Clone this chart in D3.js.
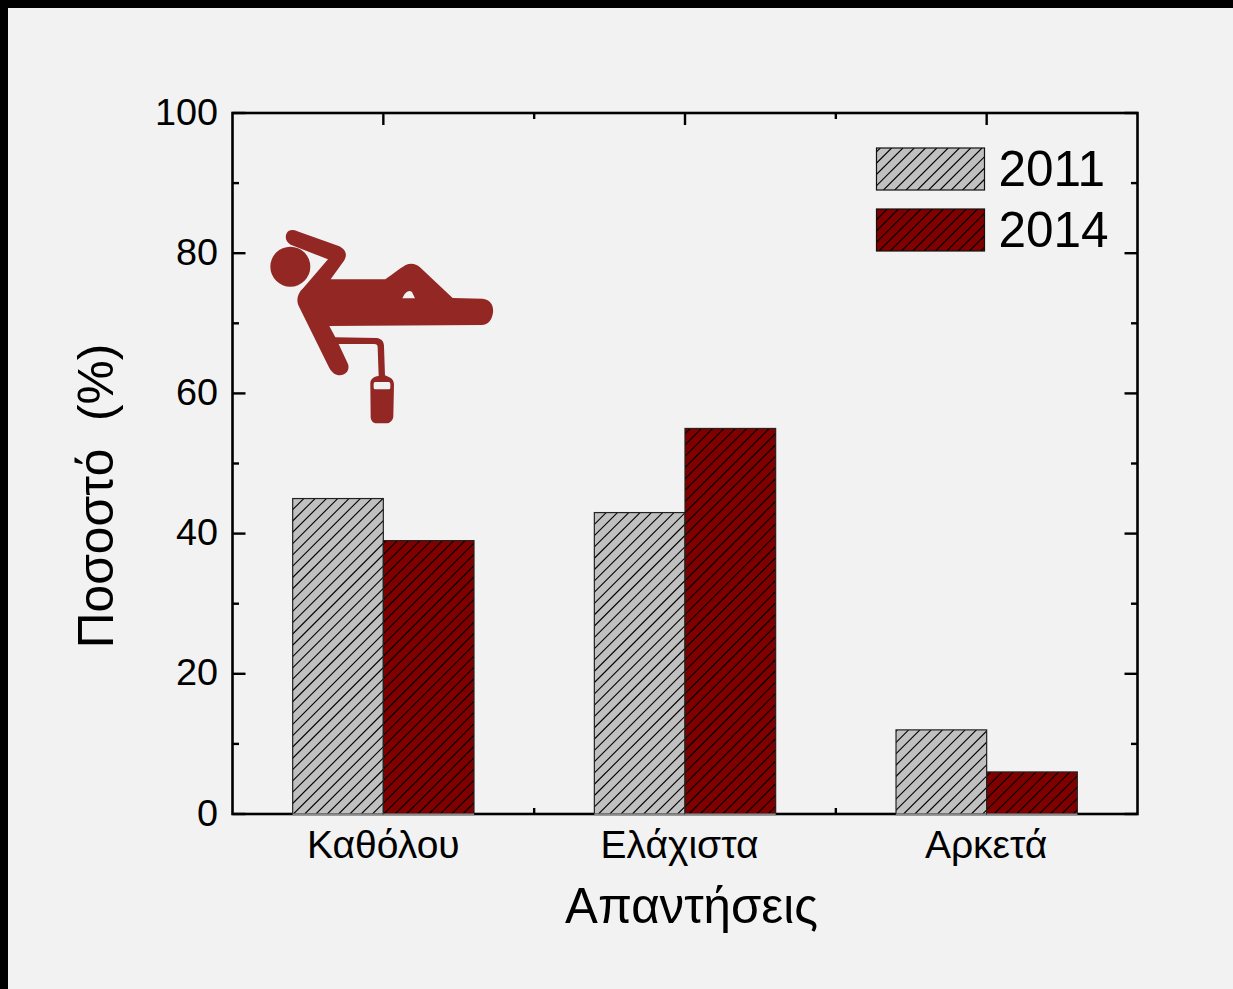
<!DOCTYPE html>
<html><head><meta charset="utf-8">
<style>html,body{margin:0;padding:0;background:#000;overflow:hidden}
text{font-family:"Liberation Sans",Arial,sans-serif;fill:#000}</style>
<script src="https://cdn.jsdelivr.net/npm/d3@7/dist/d3.min.js"></script>
</head><body><div id="c"></div>
<script>
const categories=["Καθόλου","Ελάχιστα","Αρκετά"];
const seriesNames=["2011","2014"];
const values2011=[45,43,12];
const values2014=[39,55,6];
const yMajor=[0,20,40,60,80,100];
const yMinor=[10,30,50,70,90];
const colors=["#c0c0c0","#800000"];
const labelNudge=[0,-5.5,-0.5];
const W=1233,H=989,L=232.5,R=1137.5,T=113,B=814;
const svg=d3.select("#c").append("svg").attr("width",W).attr("height",H).style("display","block");
svg.append("rect").attr("width",W).attr("height",H).attr("fill","#000");
svg.append("rect").attr("x",8).attr("y",8).attr("width",W-8).attr("height",H-8).attr("fill","#f2f2f2");
const defs=svg.append("defs");
const HATCH=11.3;
let clipId=0;
function hatchRect(g,x,yy,w,h,color,edge){
  const id="clip"+(clipId++);
  defs.append("clipPath").attr("id",id).append("rect").attr("x",x).attr("y",yy).attr("width",w).attr("height",h);
  g.append("rect").attr("x",x).attr("y",yy).attr("width",w).attr("height",h).attr("fill",color);
  const lines=g.append("g").attr("clip-path","url(#"+id+")").attr("stroke","#000").attr("stroke-width",1.1);
  const start=Math.floor((x+yy)/HATCH)*HATCH, end=x+w+yy+h;
  d3.range(start,end+HATCH,HATCH).forEach(s=>{
    lines.append("line").attr("x1",s-yy-h).attr("y1",yy+h).attr("x2",s-yy).attr("y2",yy);
  });
  g.append("rect").attr("x",x).attr("y",yy).attr("width",w).attr("height",h).attr("fill","none").attr("stroke",edge).attr("stroke-width",1.2);
}
const x0=d3.scaleBand().domain(categories).range([L,R]);
const x1=d3.scaleBand().domain(seriesNames).range([x0.bandwidth()*0.1995,x0.bandwidth()*0.8005]);
const y=d3.scaleLinear().domain([0,100]).range([B,T]);
const ax=svg.append("g").attr("stroke","#000").attr("fill","none");
ax.append("rect").attr("x",L).attr("y",T).attr("width",R-L).attr("height",B-T).attr("stroke-width",2.6);
const tick=(a,b,c,d)=>ax.append("line").attr("x1",a).attr("y1",b).attr("x2",c).attr("y2",d).attr("stroke-width",2.4);
yMajor.forEach(v=>{tick(L,y(v),L+13,y(v));tick(R,y(v),R-13,y(v));});
yMinor.forEach(v=>{tick(L,y(v),L+6.5,y(v));tick(R,y(v),R-6.5,y(v));});
categories.forEach(c=>{const m=x0(c)+x0.bandwidth()/2;tick(m,B,m,B-12);tick(m,T,m,T+12);});
categories.slice(1).forEach(c=>{const m=x0(c);tick(m,B,m,B-6);tick(m,T,m,T+6);});
const bars=svg.append("g");
[values2011,values2014].forEach((vals,i)=>{
  vals.forEach((v,j)=>{
    const bx=x0(categories[j])+x1(seriesNames[i]);
    hatchRect(bars,bx,y(v),x1.bandwidth(),y(0)-y(v),colors[i],"#222");
    bars.append("line").attr("x1",bx).attr("x2",bx+x1.bandwidth()).attr("y1",y(0)+0.5).attr("y2",y(0)+0.5).attr("stroke","#8a8a8a").attr("stroke-width",2);
  });
});
svg.selectAll(".yl").data(yMajor).join("text").attr("x",218).attr("y",d=>y(d)+11.5)
  .attr("text-anchor","end").attr("font-size",37.8).text(d=>d);
svg.selectAll(".xl").data(categories).join("text").attr("x",(d,i)=>x0(d)+x0.bandwidth()/2+labelNudge[i]).attr("y",858)
  .attr("text-anchor","middle").attr("font-size",39).text(d=>d);
svg.append("text").attr("x",691.5).attr("y",923).attr("text-anchor","middle").attr("font-size",49.2).text("Απαντήσεις");
svg.append("text").attr("transform","translate(113,496) rotate(-90)").attr("text-anchor","middle").attr("font-size",49.7).attr("xml:space","preserve").text("Ποσοστό  (%)");
seriesNames.forEach((s,i)=>{
  const yy=[148,209][i];
  hatchRect(svg.append("g"),876.5,yy,108,42,colors[i],"#111");
  svg.append("text").attr("x",998.5).attr("y",yy+38).attr("font-size",49.5).text(s);
});
// icon
const ic=svg.append("g").attr("transform","translate(260,220) scale(0.3333)").attr("fill","#922724");
ic.append("circle").attr("cx",91).attr("cy",140).attr("r",60);
ic.append("path").attr("d","M80 40 C86 28 100 28 112 34 L236 78 C256 86 264 104 252 122 L212 178 L376 178 C395 165 420 145 437 135 C452 128 468 130 480 142 L578 234 L668 236 C690 238 702 255 699 278 C696 300 685 314 665 315 L208 318 L226 352 L350 354 C364 356 372 364 372 378 L375 466 L388 472 C398 476 402 484 402 494 L400 590 C398 602 390 610 378 610 L350 610 C338 610 332 600 332 590 L331 490 C331 478 340 470 356 468 L353 382 C353 374 350 372 342 372 L236 372 L264 432 C270 450 258 466 240 466 C226 466 216 458 208 444 L118 262 C108 244 110 222 130 204 L204 118 L92 74 C78 66 74 52 80 40 Z");
ic.append("path").attr("d","M427 235 L434 222 Q445 208 456 216 L465 235 Z").attr("fill","#f2f2f2");
ic.append("rect").attr("x",341).attr("y",486).attr("width",50).attr("height",22).attr("rx",5).attr("fill","#f2f2f2");
</script></body></html>
